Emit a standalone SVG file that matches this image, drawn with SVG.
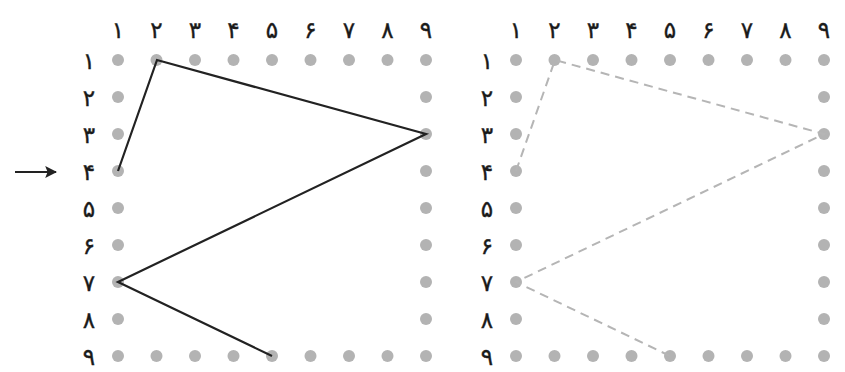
<svg xmlns="http://www.w3.org/2000/svg" width="845" height="372" viewBox="0 0 845 372">
<style>
.d{fill:#b3b3b3}
.t{font-family:"DejaVu Sans","Noto Sans",sans-serif;font-size:23px;fill:#1a1a1a;stroke:#1a1a1a;stroke-width:0.4;text-anchor:middle}
.solid{fill:none;stroke:#222;stroke-width:2.2;stroke-linejoin:miter}
.dash{fill:none;stroke:#b5b5b5;stroke-width:2;stroke-dasharray:9 6}
</style>
<defs>
<g id="grid">
<g class="d">
<circle cx="0" cy="0" r="6"/><circle cx="38.5" cy="0" r="6"/><circle cx="77" cy="0" r="6"/><circle cx="115.5" cy="0" r="6"/><circle cx="154" cy="0" r="6"/><circle cx="192.5" cy="0" r="6"/><circle cx="231" cy="0" r="6"/><circle cx="269.5" cy="0" r="6"/><circle cx="308" cy="0" r="6"/>
<circle cx="0" cy="296" r="6"/><circle cx="38.5" cy="296" r="6"/><circle cx="77" cy="296" r="6"/><circle cx="115.5" cy="296" r="6"/><circle cx="154" cy="296" r="6"/><circle cx="192.5" cy="296" r="6"/><circle cx="231" cy="296" r="6"/><circle cx="269.5" cy="296" r="6"/><circle cx="308" cy="296" r="6"/>
<circle cx="0" cy="37" r="6"/><circle cx="0" cy="74" r="6"/><circle cx="0" cy="111" r="6"/><circle cx="0" cy="148" r="6"/><circle cx="0" cy="185" r="6"/><circle cx="0" cy="222" r="6"/><circle cx="0" cy="259" r="6"/>
<circle cx="308" cy="37" r="6"/><circle cx="308" cy="74" r="6"/><circle cx="308" cy="111" r="6"/><circle cx="308" cy="148" r="6"/><circle cx="308" cy="185" r="6"/><circle cx="308" cy="222" r="6"/><circle cx="308" cy="259" r="6"/>
</g>
<g class="t">
<text x="0" y="-22">۱</text><text x="38.5" y="-22">۲</text><text x="77" y="-22">۳</text><text x="115.5" y="-22">۴</text><text x="154" y="-22">۵</text><text x="192.5" y="-22">۶</text><text x="231" y="-22">۷</text><text x="269.5" y="-22">۸</text><text x="308" y="-22">۹</text>
<text x="-29" y="8.5">۱</text><text x="-29" y="45.5">۲</text><text x="-29" y="82.5">۳</text><text x="-29" y="119.5">۴</text><text x="-29" y="156.5">۵</text><text x="-29" y="193.5">۶</text><text x="-29" y="230.5">۷</text><text x="-29" y="267.5">۸</text><text x="-29" y="304.5">۹</text>
</g>
</g>
<marker id="ah" viewBox="0 0 10 10" refX="9" refY="5" markerWidth="6" markerHeight="6" orient="auto" markerUnits="strokeWidth">
<path d="M0,0 L10,5 L0,10 L2,5 z" fill="#222"/>
</marker>
</defs>
<g id="left-grid"><use href="#grid" x="118" y="60"/></g>
<g id="right-grid"><use href="#grid" x="516" y="60"/></g>
<g id="connectors">
<line x1="15" y1="172" x2="56" y2="172" stroke="#222" stroke-width="2" marker-end="url(#ah)"/>
<polyline class="solid" points="118,171 157,60 426,134 118,282 272,356"/>
<polyline class="dash" points="516,171 555,60 824,134 516,282 670,356"/>
</g>
</svg>
